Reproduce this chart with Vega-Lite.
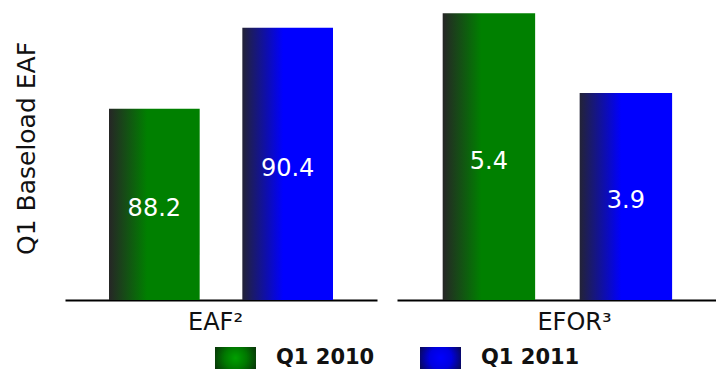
{
  "$schema": "https://vega.github.io/schema/vega-lite/v6.json",
  "padding": {"left": 14, "top": 5, "right": 0, "bottom": 0},
  "datasets": {
    "bars": [
      {"panel": "EAF", "series": "Q1 2010", "value": 88.2},
      {"panel": "EAF", "series": "Q1 2011", "value": 90.4},
      {"panel": "EFOR", "series": "Q1 2010", "value": 5.4},
      {"panel": "EFOR", "series": "Q1 2011", "value": 3.9}
    ],
    "legend": [
      {"series": "Q1 2010"},
      {"series": "Q1 2011"}
    ]
  },
  "vconcat": [
    {
      "hconcat": [
        {
          "width": 312,
          "height": 295,
          "data": {"name": "bars"},
          "transform": [{"filter": "datum.panel === 'EAF'"}],
          "encoding": {
            "x": {
              "field": "series", "type": "nominal", "sort": null,
              "scale": {"paddingInner": 0.32, "paddingOuter": 0.33},
              "axis": {"title": "EAF²", "labels": false, "ticks": false, "grid": false, "domainColor": "#000000", "domainWidth": 2, "titleFontSize": 24, "titleFontWeight": "normal", "titleColor": "#111111", "titlePadding": 10, "titleX": 150}
            }
          },
          "layer": [
            {
              "mark": {"type": "bar"},
              "encoding": {
                "y": {
                  "field": "value", "type": "quantitative",
                  "scale": {"domain": [83, 91.02], "clamp": true, "zero": false, "nice": false},
                  "axis": {"title": "Q1 Baseload EAF", "labels": false, "ticks": false, "domain": false, "grid": false, "titleFontSize": 25, "titleFontWeight": "normal", "titleColor": "#111111", "titlePadding": 26, "titleY": 143}
                },
                "color": {
                  "condition": {"test": "datum.series === 'Q1 2010'", "value": {"gradient": "linear", "x1": 0, "y1": 0, "x2": 1, "y2": 0, "stops": [{"offset": 0, "color": "#262626"}, {"offset": 0.42, "color": "#008000"}, {"offset": 1, "color": "#008000"}]}},
                  "value": {"gradient": "linear", "x1": 0, "y1": 0, "x2": 1, "y2": 0, "stops": [{"offset": 0, "color": "#232336"}, {"offset": 0.45, "color": "#0000ff"}, {"offset": 1, "color": "#0000ff"}]}
                }
              }
            },
            {
              "mark": {"type": "text", "color": "#ffffff", "fontSize": 24, "baseline": "middle", "dy": 5},
              "encoding": {
                "y": {"field": "value", "type": "quantitative", "scale": {"domain": [83, 99.04], "zero": false, "nice": false}, "axis": null},
                "text": {"field": "value", "type": "quantitative", "format": ".1f"}
              }
            }
          ],
          "resolve": {"scale": {"y": "independent"}}
        },
        {
          "width": 319,
          "height": 295,
          "data": {"name": "bars"},
          "transform": [{"filter": "datum.panel === 'EFOR'"}],
          "encoding": {
            "x": {
              "field": "series", "type": "nominal", "sort": null,
              "scale": {"paddingInner": 0.325, "paddingOuter": 0.327, "align": 0.51},
              "axis": {"title": "EFOR³", "labels": false, "ticks": false, "grid": false, "domainColor": "#000000", "domainWidth": 2, "titleFontSize": 24, "titleFontWeight": "normal", "titleColor": "#111111", "titlePadding": 10, "titleX": 177}
            }
          },
          "layer": [
            {
              "mark": {"type": "bar"},
              "encoding": {
                "y": {
                  "field": "value", "type": "quantitative",
                  "scale": {"domain": [0, 5.556], "clamp": true, "nice": false},
                  "axis": null
                },
                "color": {
                  "condition": {"test": "datum.series === 'Q1 2010'", "value": {"gradient": "linear", "x1": 0, "y1": 0, "x2": 1, "y2": 0, "stops": [{"offset": 0, "color": "#262626"}, {"offset": 0.42, "color": "#008000"}, {"offset": 1, "color": "#008000"}]}},
                  "value": {"gradient": "linear", "x1": 0, "y1": 0, "x2": 1, "y2": 0, "stops": [{"offset": 0, "color": "#232336"}, {"offset": 0.45, "color": "#0000ff"}, {"offset": 1, "color": "#0000ff"}]}
                }
              }
            },
            {
              "mark": {"type": "text", "color": "#ffffff", "fontSize": 24, "baseline": "middle", "dy": 5},
              "encoding": {
                "y": {"field": "value", "type": "quantitative", "scale": {"domain": [0, 11.112], "nice": false}, "axis": null},
                "text": {"field": "value", "type": "quantitative", "format": ".1f"}
              }
            }
          ],
          "resolve": {"scale": {"y": "independent"}}
        }
      ],
      "spacing": 20
    },
    {
      "width": 546,
      "height": 22,
      "data": {"name": "legend"},
      "encoding": {
        "x": {"field": "series", "type": "nominal", "sort": null, "scale": {"paddingInner": 0, "paddingOuter": 0.3317}, "axis": null}
      },
      "layer": [
        {
          "mark": {"type": "bar", "width": 41},
          "encoding": {
            "color": {
              "condition": {"test": "datum.series === 'Q1 2010'", "value": {"gradient": "radial", "x1": 0.5, "y1": 0.5, "r1": 0, "x2": 0.5, "y2": 0.5, "r2": 0.6, "stops": [{"offset": 0, "color": "#00a000"}, {"offset": 0.45, "color": "#007800"}, {"offset": 1, "color": "#0a2a0a"}]}},
              "value": {"gradient": "radial", "x1": 0.5, "y1": 0.5, "r1": 0, "x2": 0.5, "y2": 0.5, "r2": 0.6, "stops": [{"offset": 0, "color": "#0000ff"}, {"offset": 0.45, "color": "#0000e0"}, {"offset": 1, "color": "#0a0a40"}]}
            }
          }
        },
        {
          "mark": {"type": "text", "align": "left", "baseline": "middle", "dx": 40.5, "fontSize": 21, "fontWeight": "bold", "color": "#111111"},
          "encoding": {"text": {"field": "series", "type": "nominal"}}
        }
      ]
    }
  ],
  "spacing": 13,
  "config": {"view": {"stroke": null}, "font": "DejaVu Sans"}
}
